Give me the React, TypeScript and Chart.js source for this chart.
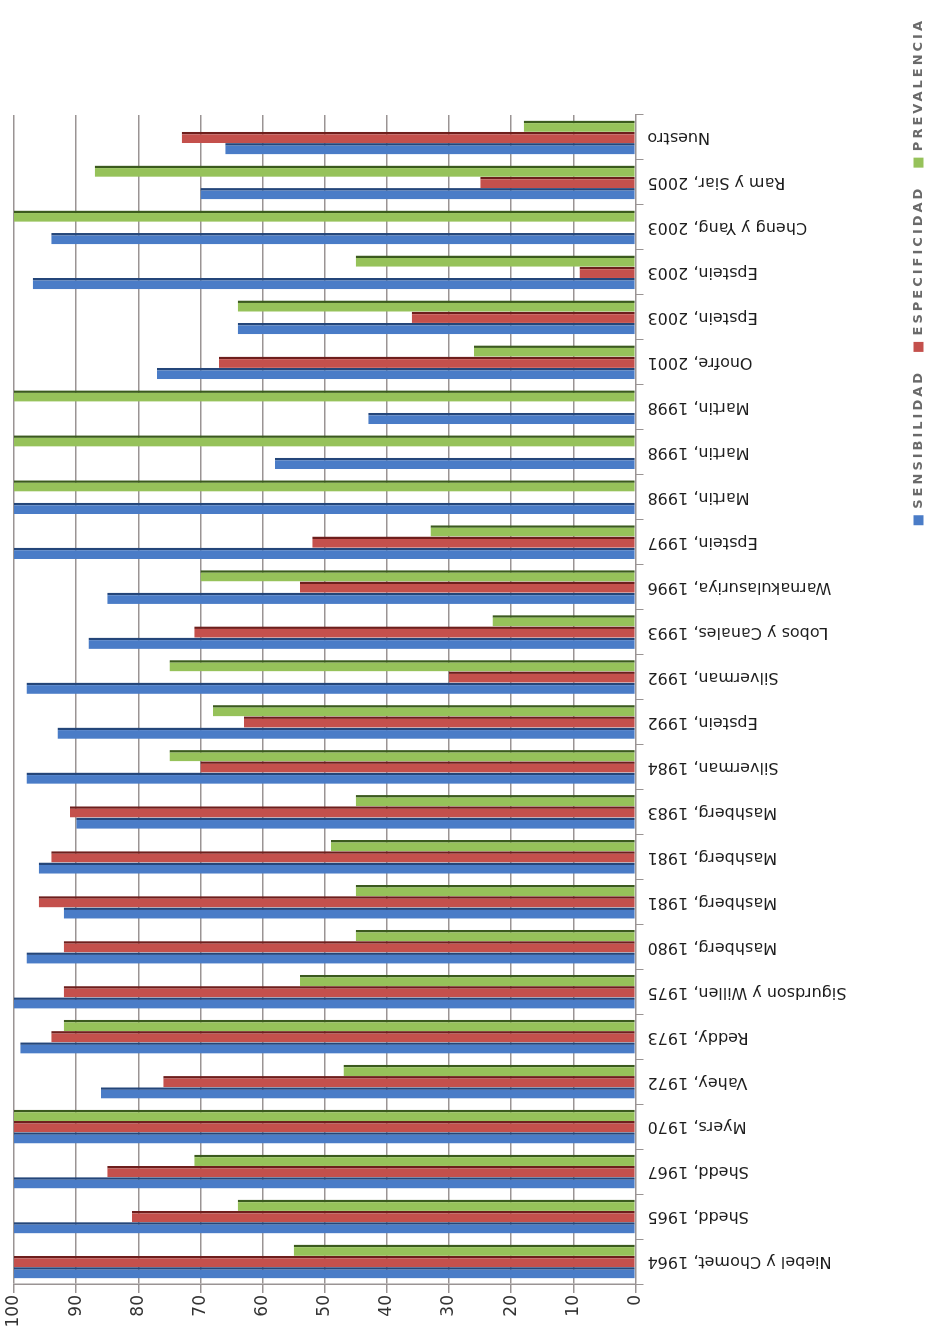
import React, { useEffect, useRef } from 'react';
import { Chart, registerables } from 'chart.js';

Chart.register(...registerables);

// Categories in the original (pre-rotation) left-to-right order
const categories: string[] = [
  'Niebel y Chomet, 1964',
  'Shedd, 1965',
  'Shedd, 1967',
  'Myers, 1970',
  'Vahey, 1972',
  'Reddy, 1973',
  'Sigurdson y Willen, 1975',
  'Mashberg, 1980',
  'Mashberg, 1981',
  'Mashberg, 1981',
  'Mashberg, 1983',
  'Silverman, 1984',
  'Epstein, 1992',
  'Silverman, 1992',
  'Lobos y Canales, 1993',
  'Warnakulasuriya, 1996',
  'Epstein, 1997',
  'Martin, 1998',
  'Martin, 1998',
  'Martin, 1998',
  'Onofre, 2001',
  'Epstein, 2003',
  'Epstein, 2003',
  'Cheng y Yang, 2003',
  'Ram y Siar, 2005',
  'Nuestro',
];

const sensibilidad: number[] = [100, 100, 100, 100, 86, 99, 100, 98, 92, 96, 90, 98, 93, 98, 88, 85, 100, 100, 58, 43, 77, 64, 97, 94, 70, 66];
const especificidad: number[] = [100, 81, 85, 100, 76, 94, 92, 92, 96, 94, 91, 70, 63, 30, 71, 54, 52, 0, 0, 0, 67, 36, 9, 0, 25, 73];
const prevalencia: number[] = [55, 64, 71, 100, 47, 92, 54, 45, 45, 49, 45, 75, 68, 75, 23, 70, 33, 100, 100, 100, 26, 64, 45, 100, 87, 18];

const seriesNames: string[] = ['SENSIBILIDAD', 'ESPECIFICIDAD', 'PREVALENCIA'];
const valueMin = 0;
const valueMax = 100;
const valueStep = 10;

const legendSpacing = {
  id: 'legendSpacing',
  afterInit(chart: any) {
    const lg = chart.legend;
    if (!lg) return;
    const wrap = (fn: any) =>
      function (this: any, ...args: any[]) {
        const ctx = this.ctx;
        const prev = ctx.letterSpacing;
        try {
          ctx.letterSpacing = '3px';
        } catch (e) {}
        try {
          return fn.apply(this, args);
        } finally {
          try {
            ctx.letterSpacing = prev || '0px';
          } catch (e) {}
        }
      };
    lg.fit = wrap(lg.fit);
    lg.draw = wrap(lg.draw);
  },
};

export default function App() {
  const ref = useRef<HTMLCanvasElement>(null);

  useEffect(() => {
    const canvas = ref.current;
    if (!canvas) return;
    const edge = { top: 0, right: 2.5, bottom: 0, left: 0 };
    const chart = new Chart(canvas, {
      type: 'bar',
      data: {
        labels: categories,
        datasets: [
          {
            label: seriesNames[0],
            data: sensibilidad,
            backgroundColor: '#4a7cc7',
            borderColor: '#24467a',
            borderWidth: edge,
            borderSkipped: false,
          },
          {
            label: seriesNames[1],
            data: especificidad,
            backgroundColor: '#c4504c',
            borderColor: '#6e1e1c',
            borderWidth: edge,
            borderSkipped: false,
          },
          {
            label: seriesNames[2],
            data: prevalencia,
            backgroundColor: '#96c25a',
            borderColor: '#3b5a1e',
            borderWidth: edge,
            borderSkipped: false,
          },
        ],
      },
      options: {
        responsive: false,
        animation: false,
        layout: { padding: { top: 14, right: 0, bottom: 0, left: 0 } },
        datasets: { bar: { categoryPercentage: 0.75, barPercentage: 1.0 } },
        plugins: {
          tooltip: { enabled: false },
          legend: {
            display: true,
            position: 'bottom',
            align: 'end',
            labels: {
              boxWidth: 10,
              boxHeight: 10,
              padding: 18,
              color: '#6a6a6a',
              font: { family: 'DejaVu Sans', size: 13, weight: 'bold' },
              generateLabels: (c: any) =>
                Chart.defaults.plugins.legend.labels
                  .generateLabels(c)
                  .map((it: any) => ({ ...it, lineWidth: 0 })),
            },
          },
        },
        scales: {
          x: {
            type: 'category',
            offset: true,
            grid: {
              display: true,
              drawOnChartArea: false,
              drawTicks: true,
              tickLength: 8,
              color: '#9a9494',
              offset: true,
            },
            border: { display: true, color: '#9a9494' },
            ticks: {
              autoSkip: false,
              minRotation: 90,
              maxRotation: 90,
              padding: 4,
              color: '#1e1e1e',
              font: { family: 'DejaVu Sans', size: 16 },
            },
            afterFit: (s: any) => {
              s.height = 258.5;
            },
          },
          y: {
            type: 'linear',
            min: valueMin,
            max: valueMax,
            ticks: {
              stepSize: valueStep,
              padding: 2,
              color: '#333333',
              font: { family: 'DejaVu Sans', size: 17 },
            },
            grid: { color: '#9a9494', lineWidth: 1.5, tickLength: 9 },
            border: { display: true, color: '#9a9494', width: 1.5 },
            afterFit: (s: any) => {
              s.width = 51;
            },
          },
          pad: {
            type: 'linear',
            position: 'right',
            display: true,
            grid: { display: false },
            ticks: { display: false },
            border: { display: false },
            afterFit: (s: any) => {
              s.width = 115;
            },
          },
        },
      } as any,
      plugins: [legendSpacing as any],
    });
    return () => chart.destroy();
  }, []);

  return (
    <div
      style={{
        position: 'absolute',
        left: 0,
        top: 0,
        width: 935,
        height: 1335,
        overflow: 'hidden',
        background: '#ffffff',
      }}
    >
      <div
        style={{
          position: 'absolute',
          left: 0,
          top: 0,
          width: 1335,
          height: 935,
          transformOrigin: '0 0',
          transform: 'translateY(1335px) rotate(-90deg)',
        }}
      >
        <canvas
          ref={ref}
          width={1335}
          height={935}
          style={{ display: 'block', width: 1335, height: 935 }}
        />
      </div>
    </div>
  );
}
